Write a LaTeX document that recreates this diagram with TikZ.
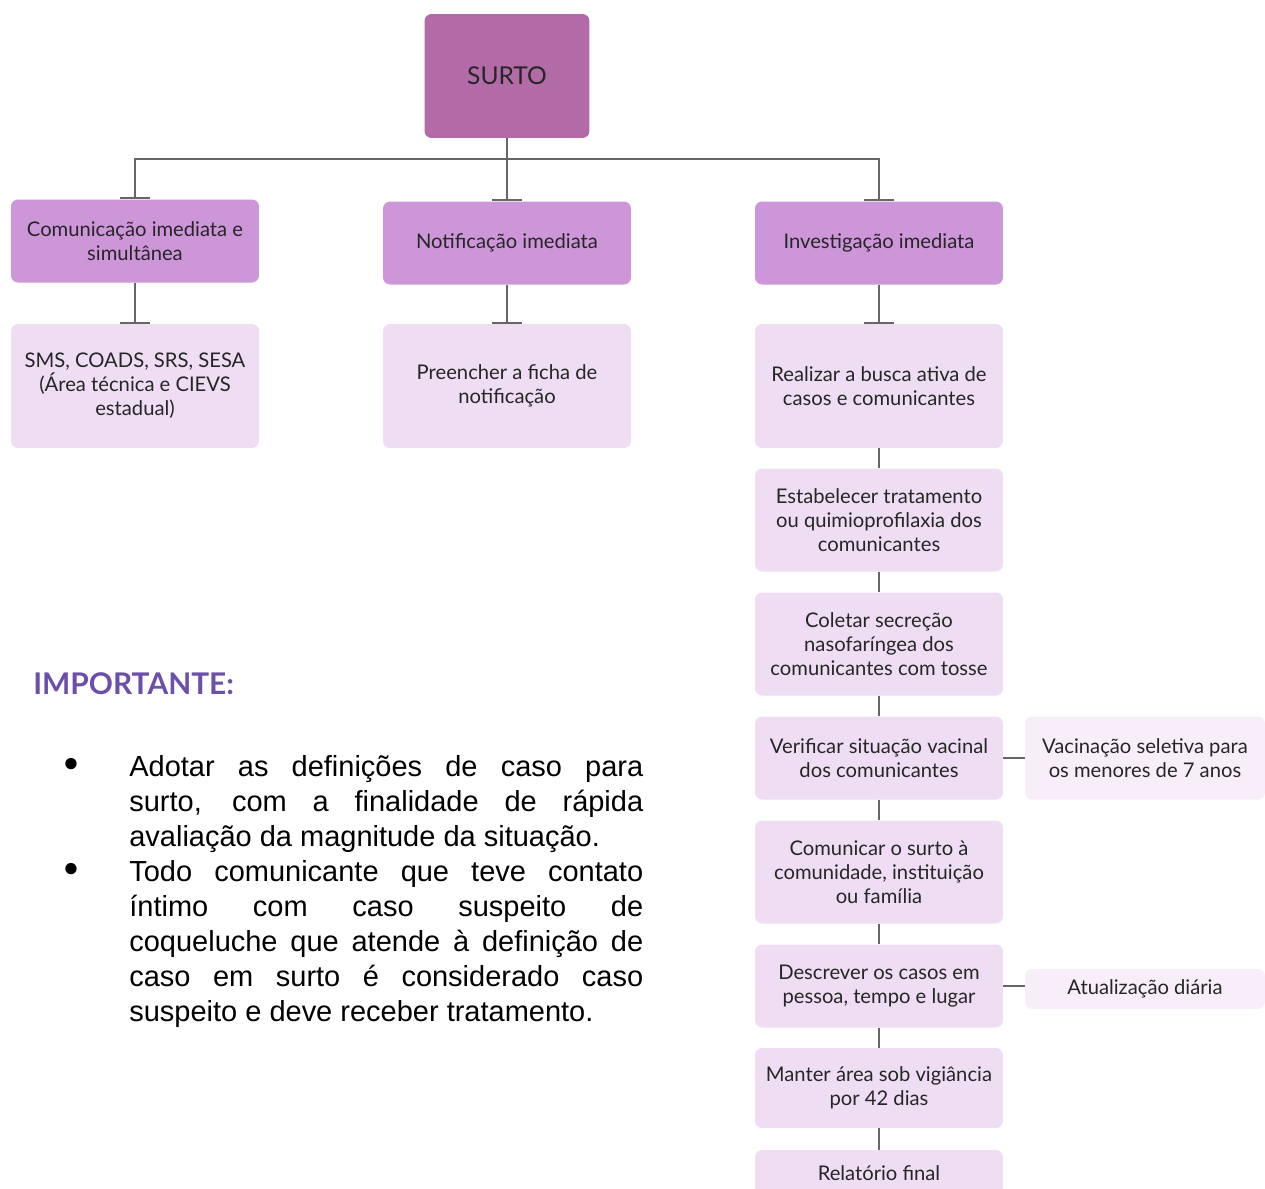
\documentclass[tikz,border=0pt]{standalone}
\usepackage{fontspec}
\setmainfont{Liberation Sans}
\newfontfamily\diagfont{Lato}
\usetikzlibrary{arrows.meta}

\definecolor{roxoesc}{HTML}{B36BA8}
\definecolor{roxomed}{HTML}{CC96D8}
\definecolor{roxoclaro}{HTML}{EEDDF3}
\definecolor{roxopal}{HTML}{F8EEFA}
\definecolor{cinza}{HTML}{666666}
\definecolor{titulo}{HTML}{6B4FAB}
\definecolor{texto}{HTML}{262626}

\tikzset{
  caixa/.style={rounded corners=4pt, minimum width=4.96cm, minimum height=1.66cm,
    inner sep=2pt, align=center, text=texto, font=\diagfont\fontsize{11.5}{13.6}\selectfont},
  raiz/.style={caixa, fill=roxoesc, minimum width=3.3cm, minimum height=2.48cm,
    font=\diagfont\fontsize{14}{16}\selectfont},
  nivel/.style={caixa, fill=roxomed},
  passo/.style={caixa, fill=roxoclaro},
  extra/.style={caixa, fill=roxopal, minimum width=4.8cm},
  liga/.style={draw=cinza, line width=1.1pt},
  ponta/.style={-{Bar[width=0.6cm]}},
  paragrafo/.style={anchor=north west, inner sep=0pt, text width=10.28cm, align=justify,
    font=\fontsize{16.5}{19.9}\selectfont},
  marca/.style={inner sep=0pt, font=\fontsize{15}{16}\selectfont}
}

\begin{document}
\begin{tikzpicture}[x=0.02cm,y=-0.02cm]
\useasboundingbox (0,0) rectangle (1265,1188);

% Raiz
\node[raiz] (surto) at (507,76) {SURTO};

% Primeiro nível
\node[nivel] (comunic) at (135,241) {Comunicação imediata e\\simultânea};
\node[nivel] (notif) at (507,243) {Notificação imediata};
\node[nivel] (invest) at (879,243) {Investigação imediata};

% Segundo nível
\node[passo, minimum height=2.48cm] (orgaos) at (135,386) {SMS, COADS, SRS, SESA\\(Área técnica e CIEVS\\estadual)};
\node[passo, minimum height=2.48cm] (ficha) at (507,386) {Preencher a ficha de\\notificação};
\node[passo, minimum height=2.48cm] (busca) at (879,386) {Realizar a busca ativa de\\casos e comunicantes};

% Passos da investigação
\node[passo, minimum height=2.06cm] (trat) at (879,520) {Estabelecer tratamento\\ou quimioprofilaxia dos\\comunicantes};
\node[passo, minimum height=2.06cm] (coleta) at (879,644) {Coletar secreção\\nasofaríngea dos\\comunicantes com tosse};
\node[passo] (vacinal) at (879,758) {Verificar situação vacinal\\dos comunicantes};
\node[passo, minimum height=2.06cm] (avisa) at (879,872) {Comunicar o surto à\\comunidade, instituição\\ou família};
\node[passo] (descr) at (879,986) {Descrever os casos em\\pessoa, tempo e lugar};
\node[passo, minimum height=1.6cm] (vigia) at (879,1088) {Manter área sob vigiância\\por 42 dias};
\node[passo, minimum height=0.92cm] (final) at (879,1173) {Relatório final};

% Caixas laterais
\node[extra] (seletiva) at (1145,758) {Vacinação seletiva para\\os menores de 7 anos};
\node[extra, minimum height=0.8cm] (diaria) at (1145,989) {Atualização diária};

% Ligações
\coordinate (bus) at (507,159);
\draw[liga, ponta] (surto.south) -- (notif.north);
\draw[liga, ponta] (bus) -| (comunic.north);
\draw[liga, ponta] (bus) -| (invest.north);
\draw[liga, ponta] (comunic) -- (orgaos);
\draw[liga, ponta] (notif) -- (ficha);
\draw[liga, ponta] (invest) -- (busca);
\draw[liga] (busca) -- (trat);
\draw[liga] (trat) -- (coleta);
\draw[liga] (coleta) -- (vacinal);
\draw[liga] (vacinal) -- (avisa);
\draw[liga] (avisa) -- (descr);
\draw[liga] (descr) -- (vigia);
\draw[liga] (vigia) -- (final);
\draw[liga] (vacinal) -- (seletiva);
\draw[liga] (descr.east) -- (descr.east -| diaria.west);

% Nota
\node[anchor=west, inner sep=0pt, text=titulo, font=\diagfont\bfseries\fontsize{17}{20}\selectfont] (nota) at (33,684) {IMPORTANTE:};
\node[marca] (m1) at (71,765) {●};
\node[paragrafo] (p1) at (129,755) {Adotar as definições de caso para\linebreak surto, com a finalidade de rápida\linebreak avaliação da magnitude da situação.};
\node[marca] (m2) at (71,870) {●};
\node[paragrafo] (p2) at (129,860) {Todo comunicante que teve contato\linebreak íntimo com caso suspeito de\linebreak coqueluche que atende à definição de\linebreak caso em surto é considerado caso\linebreak suspeito e deve receber tratamento.};
\end{tikzpicture}
\end{document}
